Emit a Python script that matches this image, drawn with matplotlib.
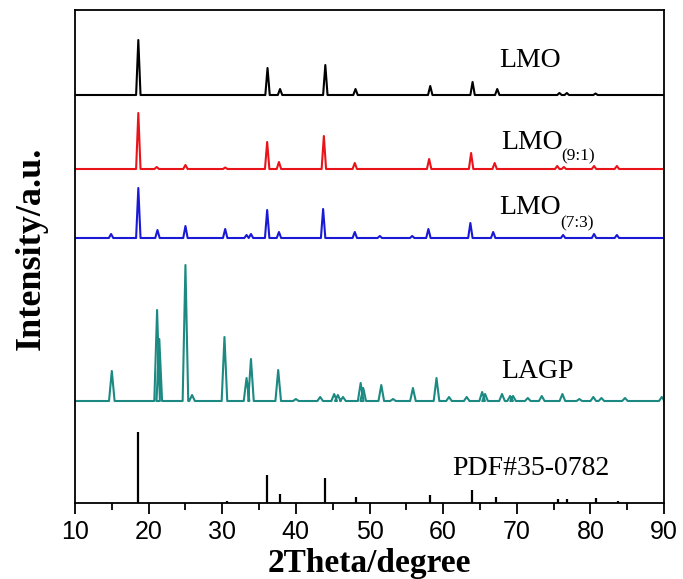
import matplotlib
matplotlib.use("Agg")
import matplotlib.pyplot as plt
import numpy as np
from matplotlib.ticker import MultipleLocator

# ---------------- data ----------------
# peak positions (2theta, degree) and peak heights above each pattern's baseline (a.u.)
lmo_pos = [18.6, 36.15, 37.85, 44.0, 48.1, 58.25, 64.0, 67.35, 75.8, 76.8, 80.7]
lmo_int = [55, 27, 6, 30, 6, 9, 13, 6, 2, 2, 1.5]

lmo91_pos = [18.6, 21.1, 25.0, 30.4, 36.1, 37.7, 43.8, 48.0, 58.1, 63.8, 67.0, 75.5, 76.4, 80.5, 83.6]
lmo91_int = [56, 2, 4, 1.5, 27, 7, 33, 6, 10, 16, 6, 3, 2, 3, 3]

lmo73_pos = [14.9, 18.6, 21.2, 25.0, 30.4, 33.3, 33.9, 36.1, 37.7, 43.7, 48.0, 51.4, 55.8,
             58.0, 63.7, 66.8, 76.3, 80.5, 83.6]
lmo73_int = [4, 50, 8, 12, 9, 3, 4, 28, 6, 29, 6, 2, 2, 9, 15, 6, 3, 4, 3]

lagp_pos = [15.0, 21.15, 21.45, 25.0, 25.9, 30.3, 33.3, 33.9, 37.6, 40.0, 43.3, 45.2, 45.7,
            46.4, 48.8, 49.15, 51.6, 53.2, 55.9, 59.1, 60.8, 63.2, 65.3, 65.7, 68.0, 69.1,
            69.5, 71.5, 73.4, 76.2, 78.5, 80.4, 81.5, 84.7, 89.7]
lagp_int = [30, 91, 62, 136, 6, 64, 23, 42, 31, 2, 4, 7, 6, 4, 18, 13, 16, 2, 13, 23, 4, 4,
            9, 7, 7, 5, 5, 3, 5, 7, 2, 4, 3, 3, 4]

pdf_pos = [18.6, 30.7, 36.1, 37.8, 43.9, 48.1, 58.2, 63.9, 67.2, 75.6, 76.8, 80.8, 83.8]
pdf_int = [71, 2.5, 28, 9, 25, 6.5, 8, 13, 6.5, 4, 4, 5, 2.5]

# vertical offsets of each stacked pattern (a.u.)
offset_lmo, offset_91, offset_73, offset_lagp = 408, 334, 265, 102

x_ticks = [10, 20, 30, 40, 50, 60, 70, 80, 90]


def stick_profile(pos, inten, hw=0.3, xmin=10, xmax=90):
    """Polyline: flat baseline with a narrow spike at each listed peak."""
    xs, ys = [xmin], [0.0]
    for p, h in sorted(zip(pos, inten)):
        xs += [p - hw, p, p + hw]
        ys += [0.0, h, 0.0]
    xs.append(xmax)
    ys.append(0.0)
    return np.array(xs), np.array(ys)


fig = plt.figure(figsize=(6.83, 5.79), dpi=100)
ax = fig.add_axes([75 / 683, 76 / 579, 589 / 683, 493 / 579])

lw = 1.5
x, y = stick_profile(lmo_pos, lmo_int)
ax.plot(x, y + offset_lmo, color="black", lw=lw)
x, y = stick_profile(lmo91_pos, lmo91_int)
ax.plot(x, y + offset_91, color="#e8141a", lw=lw)
x, y = stick_profile(lmo73_pos, lmo73_int)
ax.plot(x, y + offset_73, color="#1a1ad6", lw=lw)
x, y = stick_profile(lagp_pos, lagp_int, hw=0.38)
ax.plot(x, y + offset_lagp, color="#1c8a82", lw=lw)
ax.vlines(pdf_pos, 0, pdf_int, color="black", lw=1.6)

ax.set_xlim(10, 90)
ax.set_ylim(0, 493)

serif = ["Liberation Serif", "DejaVu Serif"]
ax.text(67.6, 436.3, "LMO", family=serif, fontsize=20, ha="left", va="baseline")
ax.text(67.95, 353.7, "LMO", family=serif, fontsize=20, ha="left", va="baseline")
ax.text(76.1, 343, "(9:1)", family=serif, fontsize=12.5, ha="left", va="baseline")
ax.text(67.6, 288.7, "LMO", family=serif, fontsize=20, ha="left", va="baseline")
ax.text(75.9, 275.3, "(7:3)", family=serif, fontsize=12.5, ha="left", va="baseline")
ax.text(67.95, 124.7, "LAGP", family=serif, fontsize=20, ha="left", va="baseline")
ax.text(61.2, 28, "PDF#35-0782", family=serif, fontsize=20, ha="left", va="baseline")

ax.set_xticks(x_ticks)
ax.xaxis.set_minor_locator(MultipleLocator(5))
ax.set_yticks([])
ax.tick_params(axis="x", which="major", direction="out", length=8, width=1.3, pad=4)
ax.tick_params(axis="x", which="minor", direction="out", length=5, width=1.3)
for lab in ax.get_xticklabels():
    lab.set_family(["Liberation Sans", "DejaVu Sans"])
    lab.set_fontsize(18)
for sp in ax.spines.values():
    sp.set_linewidth(1.3)

ax.set_xlabel("2Theta/degree", family=serif, fontsize=24, fontweight="bold", va="baseline")
ax.xaxis.set_label_coords(0.5, (7 - 76) / 493)
ax.set_ylabel("Intensity/a.u.", family=serif, fontsize=26, fontweight="bold", va="center")
ax.yaxis.set_label_coords(-44 / 589, (503 - 248.5) / 493)

fig.savefig("out.png", dpi=100)
